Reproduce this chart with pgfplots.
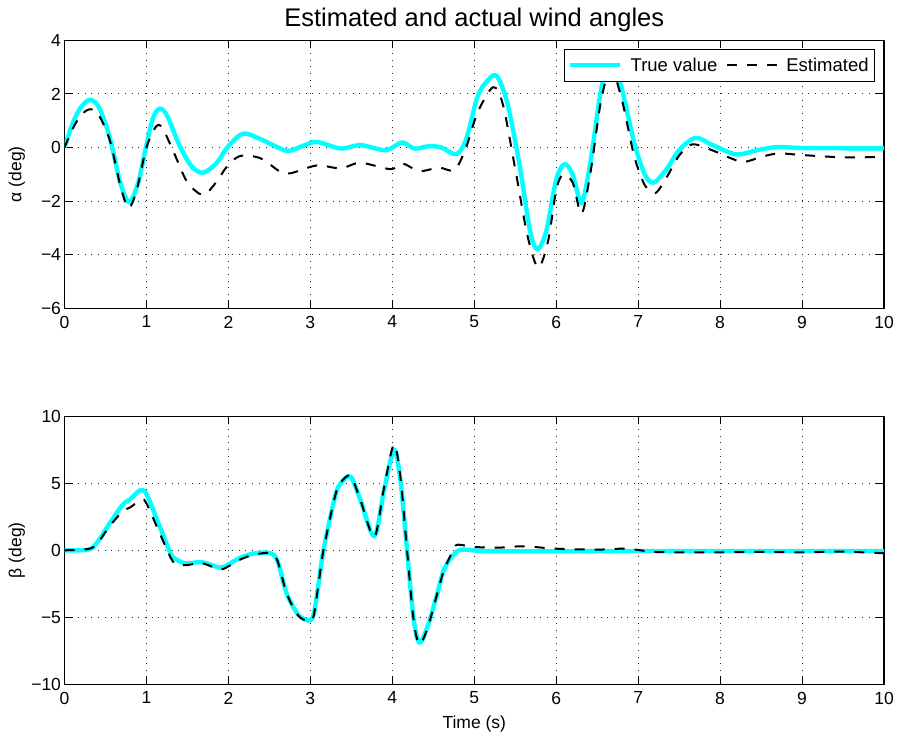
\documentclass[border=0pt]{standalone}
\usepackage{fontspec}
\setmainfont{Liberation Sans}
\usepackage{pgfplots}
\pgfplotsset{compat=1.18}
\definecolor{mcyan}{RGB}{0,255,255}
\pgfplotsset{
  myaxis/.style={
    scale only axis, width=819.5pt, height=268pt,
    xmin=0, xmax=10, xtick={0,1,...,10},
    grid=major,
    major grid style={line width=0.8pt, dash pattern=on 0.8pt off 5.9pt, black!85},
    axis line style={line width=1.1pt},
    tick style={line width=1pt, black},
    major tick length=8pt,
    tick align=inside,
    /pgf/number format/assume math mode=true,
    tick label style={font=\fontsize{17.5}{20}\selectfont},
    label style={font=\fontsize{17.5}{21}\selectfont},
    xticklabel style={yshift=-4pt},
    ylabel style={at={(axis description cs:-0.058,0.5)}, anchor=center},
    clip=true,
  },
  truestyle/.style={color=mcyan, line width=4.4pt, smooth, tension=0.5, line join=round},
  eststyle/.style={color=black, line width=2pt, dash pattern=on 10pt off 10pt, smooth, tension=0.5},
}
\begin{document}
\begin{tikzpicture}
\useasboundingbox (0pt,0pt) rectangle (899pt,740pt);
\begin{axis}[myaxis,
  at={(64.5pt,431.7pt)}, anchor=south west,
  ymin=-6, ymax=4, ytick={-6,-4,-2,0,2,4},
  yticklabels={−6,−4,−2,0,2,4},
  ylabel={α (deg)},
  title={Estimated and actual wind angles},
  title style={at={(axis description cs:0.5,1)}, yshift=14pt, anchor=center, font=\fontsize{25.5}{30}\selectfont},
  legend columns=2,
  legend style={at={(1,1)}, anchor=north east, xshift=-9pt, yshift=-8.5pt,
    draw=black, line width=0.8pt, fill=white,
    font=\fontsize{18.5}{22}\selectfont, inner xsep=4pt, inner ysep=6.5pt,
    /tikz/every even column/.append style={column sep=7pt}},
  legend image code/.code={\draw[#1] (0pt,0pt) -- (50pt,0pt); \path (56pt,0pt);},
]
\addplot[truestyle] coordinates {
(0,0) (0.1,0.9) (0.2,1.5) (0.31,1.78) (0.42,1.5) (0.55,0.4) (0.68,-1.3) (0.79,-2.05)
(0.9,-1.3) (1.0,0.1) (1.08,1.1) (1.16,1.45) (1.25,1.2) (1.4,0.1) (1.55,-0.7) (1.69,-0.94)
(1.85,-0.6) (2.0,0.05) (2.18,0.52) (2.4,0.3) (2.71,-0.12) (2.9,0.05) (3.08,0.21) (3.37,-0.04)
(3.61,0.09) (3.92,-0.1) (4.12,0.19) (4.27,-0.04) (4.45,0.05) (4.6,0.0) (4.78,-0.25) (4.9,0.3)
(5.04,1.9) (5.15,2.45) (5.27,2.68) (5.4,1.7) (5.55,-0.6) (5.68,-3.1) (5.77,-3.8) (5.88,-3.1)
(6.0,-1.2) (6.10,-0.62) (6.2,-1.0) (6.31,-2.07) (6.42,-0.5) (6.55,2.2) (6.67,3.3) (6.8,2.2)
(6.95,0.2) (7.08,-1.0) (7.19,-1.31) (7.35,-0.8) (7.5,-0.1) (7.70,0.36) (7.9,0.1) (8.2,-0.26)
(8.45,-0.1) (8.71,0.02) (9.0,-0.02) (9.5,-0.03) (10,-0.03)
};
\addlegendentry{True value}
\addplot[eststyle] coordinates {
(0,0) (0.1,0.7) (0.2,1.2) (0.3,1.42) (0.4,1.3) (0.55,0.3) (0.68,-1.4) (0.78,-2.26)
(0.88,-1.6) (1.0,0.0) (1.12,0.79) (1.2,0.7) (1.35,-0.3) (1.5,-1.3) (1.69,-1.77) (1.85,-1.3)
(1.98,-0.72) (2.14,-0.32) (2.39,-0.4) (2.63,-0.9) (2.76,-0.96) (3.08,-0.67) (3.37,-0.78) (3.61,-0.57)
(3.98,-0.81) (4.12,-0.59) (4.33,-0.88) (4.57,-0.75) (4.76,-0.84) (4.9,0.0) (5.04,1.3) (5.23,2.25)
(5.35,1.6) (5.5,-0.8) (5.65,-3.3) (5.78,-4.48) (5.9,-3.5) (6.0,-1.6) (6.08,-1.02) (6.2,-1.3)
(6.31,-2.47) (6.42,-0.9) (6.55,1.8) (6.67,2.9) (6.8,1.8) (6.95,-0.3) (7.08,-1.4) (7.21,-1.7)
(7.35,-1.1) (7.5,-0.3) (7.66,0.12) (7.9,-0.1) (8.26,-0.53) (8.5,-0.35) (8.71,-0.22) (8.99,-0.28)
(9.52,-0.37) (9.96,-0.35) (10,-0.35)
};
\addlegendentry{Estimated}
\end{axis}
\begin{axis}[myaxis,
  at={(64.5pt,55.7pt)}, anchor=south west,
  ymin=-10, ymax=10, ytick={-10,-5,0,5,10},
  yticklabels={−10,−5,0,5,10},
  ylabel={β (deg)},
  xlabel={Time (s)},
  xlabel style={at={(axis description cs:0.5,-0.148)}, anchor=center},
]
\addplot[truestyle] coordinates {
(0,0) (0.29,0.05) (0.4,0.6) (0.55,2.0) (0.71,3.4) (0.8,3.8) (0.92,4.47) (1.0,4.2)
(1.16,1.8) (1.3,-0.3) (1.37,-0.7) (1.45,-0.94) (1.55,-0.95) (1.65,-0.87) (1.75,-1.0) (1.9,-1.3)
(2.0,-1.05) (2.14,-0.57) (2.3,-0.25) (2.51,-0.2) (2.6,-0.8) (2.71,-3.2) (2.85,-4.8) (2.98,-5.24)
(3.04,-4.8) (3.1,-2.5) (3.16,0.0) (3.3,4.0) (3.37,5.0) (3.49,5.5) (3.61,3.77) (3.78,1.04)
(3.9,4.5) (4.02,7.5) (4.1,5.2) (4.18,0.0) (4.26,-5.1) (4.33,-6.9) (4.43,-5.7) (4.55,-3.2)
(4.63,-1.44) (4.75,-0.3) (4.84,0.05) (5.04,-0.03) (5.3,-0.07) (6,-0.07) (7,-0.05) (8,-0.05) (10,-0.05)
};
\addplot[eststyle] coordinates {
(0,0) (0.29,0.1) (0.4,0.5) (0.55,1.8) (0.71,2.9) (0.8,3.2) (0.94,3.77) (1.0,3.5)
(1.16,1.3) (1.3,-0.6) (1.37,-1.07) (1.5,-1.1) (1.65,-0.94) (1.75,-1.1) (1.9,-1.44) (2.0,-1.2)
(2.14,-0.7) (2.3,-0.35) (2.51,-0.2) (2.6,-0.8) (2.71,-3.2) (2.85,-4.85) (2.98,-5.3) (3.04,-4.9)
(3.1,-2.5) (3.16,0.0) (3.3,4.0) (3.37,5.05) (3.49,5.55) (3.61,3.77) (3.78,1.0) (3.9,4.7)
(4.02,7.9) (4.1,5.4) (4.18,0.0) (4.26,-5.2) (4.33,-7.0) (4.43,-5.8) (4.55,-3.2) (4.63,-1.5)
(4.75,0.1) (4.8,0.42) (5.0,0.25) (5.3,0.2) (5.6,0.3) (6.0,0.12) (6.5,0.05) (6.85,0.12)
(7.2,-0.12) (7.6,-0.15) (8.0,-0.15) (8.5,-0.12) (9.0,-0.15) (9.5,-0.1) (9.9,-0.2) (10,-0.2)
};
\end{axis}
\end{tikzpicture}
\end{document}
